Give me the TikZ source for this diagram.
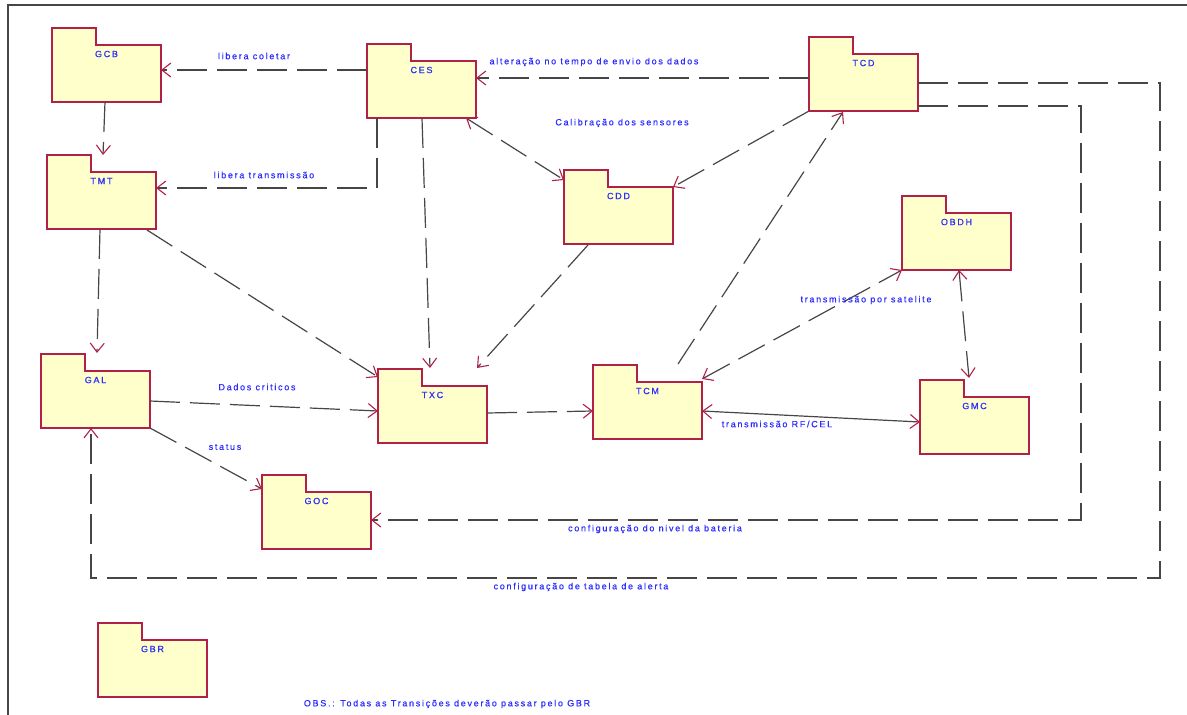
\documentclass[tikz,border=0pt]{standalone}
\usepackage{fontspec}
\newfontfamily\lblfont[LetterSpace=19,FakeBold=0.6]{Liberation Sans}
\usetikzlibrary{arrows.meta,calc}
\definecolor{pkgborder}{RGB}{176,32,72}
\definecolor{pkgfill}{RGB}{255,255,204}
\definecolor{lblblue}{RGB}{45,45,255}
\definecolor{linegray}{RGB}{70,70,70}
\newcommand\pkgbox[4]{%
  \node[pkgnode] (#1) at (#2,#3) {};
  \path[pkgline] (#1.north west) -- ++(0,-17) -- ++(44,0) |- (#1.north east) -- (#1.south east) -- (#1.south west) -- cycle;
  \node[lbl] (#1-t) at ($(#1.north)+(0,9)$) {#4};
}
\begin{document}
\begin{tikzpicture}[x=1pt,y=-1pt,
  pkgnode/.style={inner sep=0,outer sep=0,minimum width=109pt,minimum height=57pt,anchor=north west},
  pkgline/.style={draw=pkgborder,fill=pkgfill,line width=1.3pt,line join=miter},
  lbl/.style={font=\lblfont\fontsize{9}{11}\selectfont,text=lblblue,inner sep=0},
  tip/.tip={Straight Barb[length=9pt,width=14pt,line width=1.1pt,color=pkgborder]},
  conn/.style={draw=linegray,line width=1.2pt,dash pattern=on 30pt off 10pt,-tip},
  biconn/.style={conn,tip-tip},
  solidbi/.style={draw=linegray,line width=1.2pt,tip-tip}]
\useasboundingbox (0,0) rectangle (1187,715);
\draw[line width=1.5pt,linegray] (8,715) -- (8,5) -- (1187,5);

% packages
\pkgbox{GCB}{52}{45}{GCB}
\pkgbox{TMT}{47}{172}{TMT}
\pkgbox{CES}{367}{61}{CES}
\pkgbox{CDD}{564}{187}{CDD}
\pkgbox{TCD}{809}{54}{TCD}
\pkgbox{OBDH}{902}{213}{OBDH}
\pkgbox{GAL}{41}{371}{GAL}
\pkgbox{TXC}{378}{386}{TXC}
\pkgbox{GOC}{262}{492}{GOC}
\pkgbox{TCM}{593}{382}{TCM}
\pkgbox{GMC}{920}{397}{GMC}
\pkgbox{GBR}{98}{640}{GBR}

% corners
\coordinate (k1) at (1081,520);
\coordinate (k2) at (1160,578);

% connectors
\draw[conn] ($(CES.north west)+(0,9)$) -- ($(GCB.north east)+(0,25)$);
\draw[conn] ($(GCB.south west)+(53,0)$) -- ($(TMT.north west)+(56,-17)$);
\draw[conn] ($(CES.south west)+(10,0)$) |- ($(TMT.north east)+(0,16)$);
\draw[conn] ($(TMT.south west)+(53,0)$) -- ($(GAL.north west)+(56,-18)$);
\draw[conn] ($(TMT.south east)+(-9,1)$) -- ($(TXC.north west)+(0,-9)$);
\draw[conn] ($(CES.south west)+(55,0)$) -- ($(TXC.north west)+(52,-18)$);
\draw[conn] ($(CDD.south west)+(24,1)$) -- ($(TXC.north west)+(99,-18)$);
\draw[biconn] ($(CES.south east)+(-10,0)$) -- ($(CDD.north west)+(0,-7)$);
\draw[conn] ($(TCD.north west)+(0,24)$) -- ($(CES.north east)+(0,17)$);
\draw[conn] (TCD.south west) -- (CDD.north east);
\draw[conn] ($(TCM.north west)+(85,-18)$) -- ($(TCD.south west)+(34,1)$);
\draw[conn] ($(GAL.north east)+(0,30)$) -- ($(TXC.north west)+(0,25)$);
\draw[conn] (GAL.south east) -- ($(GOC.north west)+(0,-3)$);
\draw[conn] ($(TXC.north east)+(0,27)$) -- ($(TCM.north west)+(0,29)$);
\draw[biconn] ($(TCM.north east)+(0,-3)$) -- (OBDH.south west);
\draw[biconn] ($(OBDH.south west)+(57,0)$) -- ($(GMC.north west)+(49,-19)$);
\draw[solidbi] ($(TCM.north east)+(0,29)$) -- ($(GMC.north west)+(0,25)$);
\draw[conn] ($(TCD.north east)+(0,52)$) -| (k1) -- ($(GOC.north east)+(0,28)$);
\draw[conn] ($(TCD.north east)+(0,29)$) -| (k2) -| ($(GAL.south west)+(50,0)$);

% labels
\node[lbl] (t1) at (254,56) {libera coletar};
\node[lbl] (t2) at (264,175) {libera transmissão};
\node[lbl] (t3) at (594,62) {alteração no tempo de envio dos dados};
\node[lbl] (t4) at (622,123) {Calibração dos sensores};
\node[lbl] (t5) at (257,387) {Dados criticos};
\node[lbl] (t6) at (225,447) {status};
\node[lbl] (t7) at (777,424) {transmissão RF/CEL};
\node[lbl] (t8) at (866,300) {transmissão por satelite};
\node[lbl] (t9) at (655,529) {configuração do nivel da bateria};
\node[lbl] (t10) at (581,587) {configuração de tabela de alerta};
\node[lbl] (t11) at (447,704) {OBS.: Todas as Transições deverão passar pelo GBR};
\end{tikzpicture}
\end{document}
